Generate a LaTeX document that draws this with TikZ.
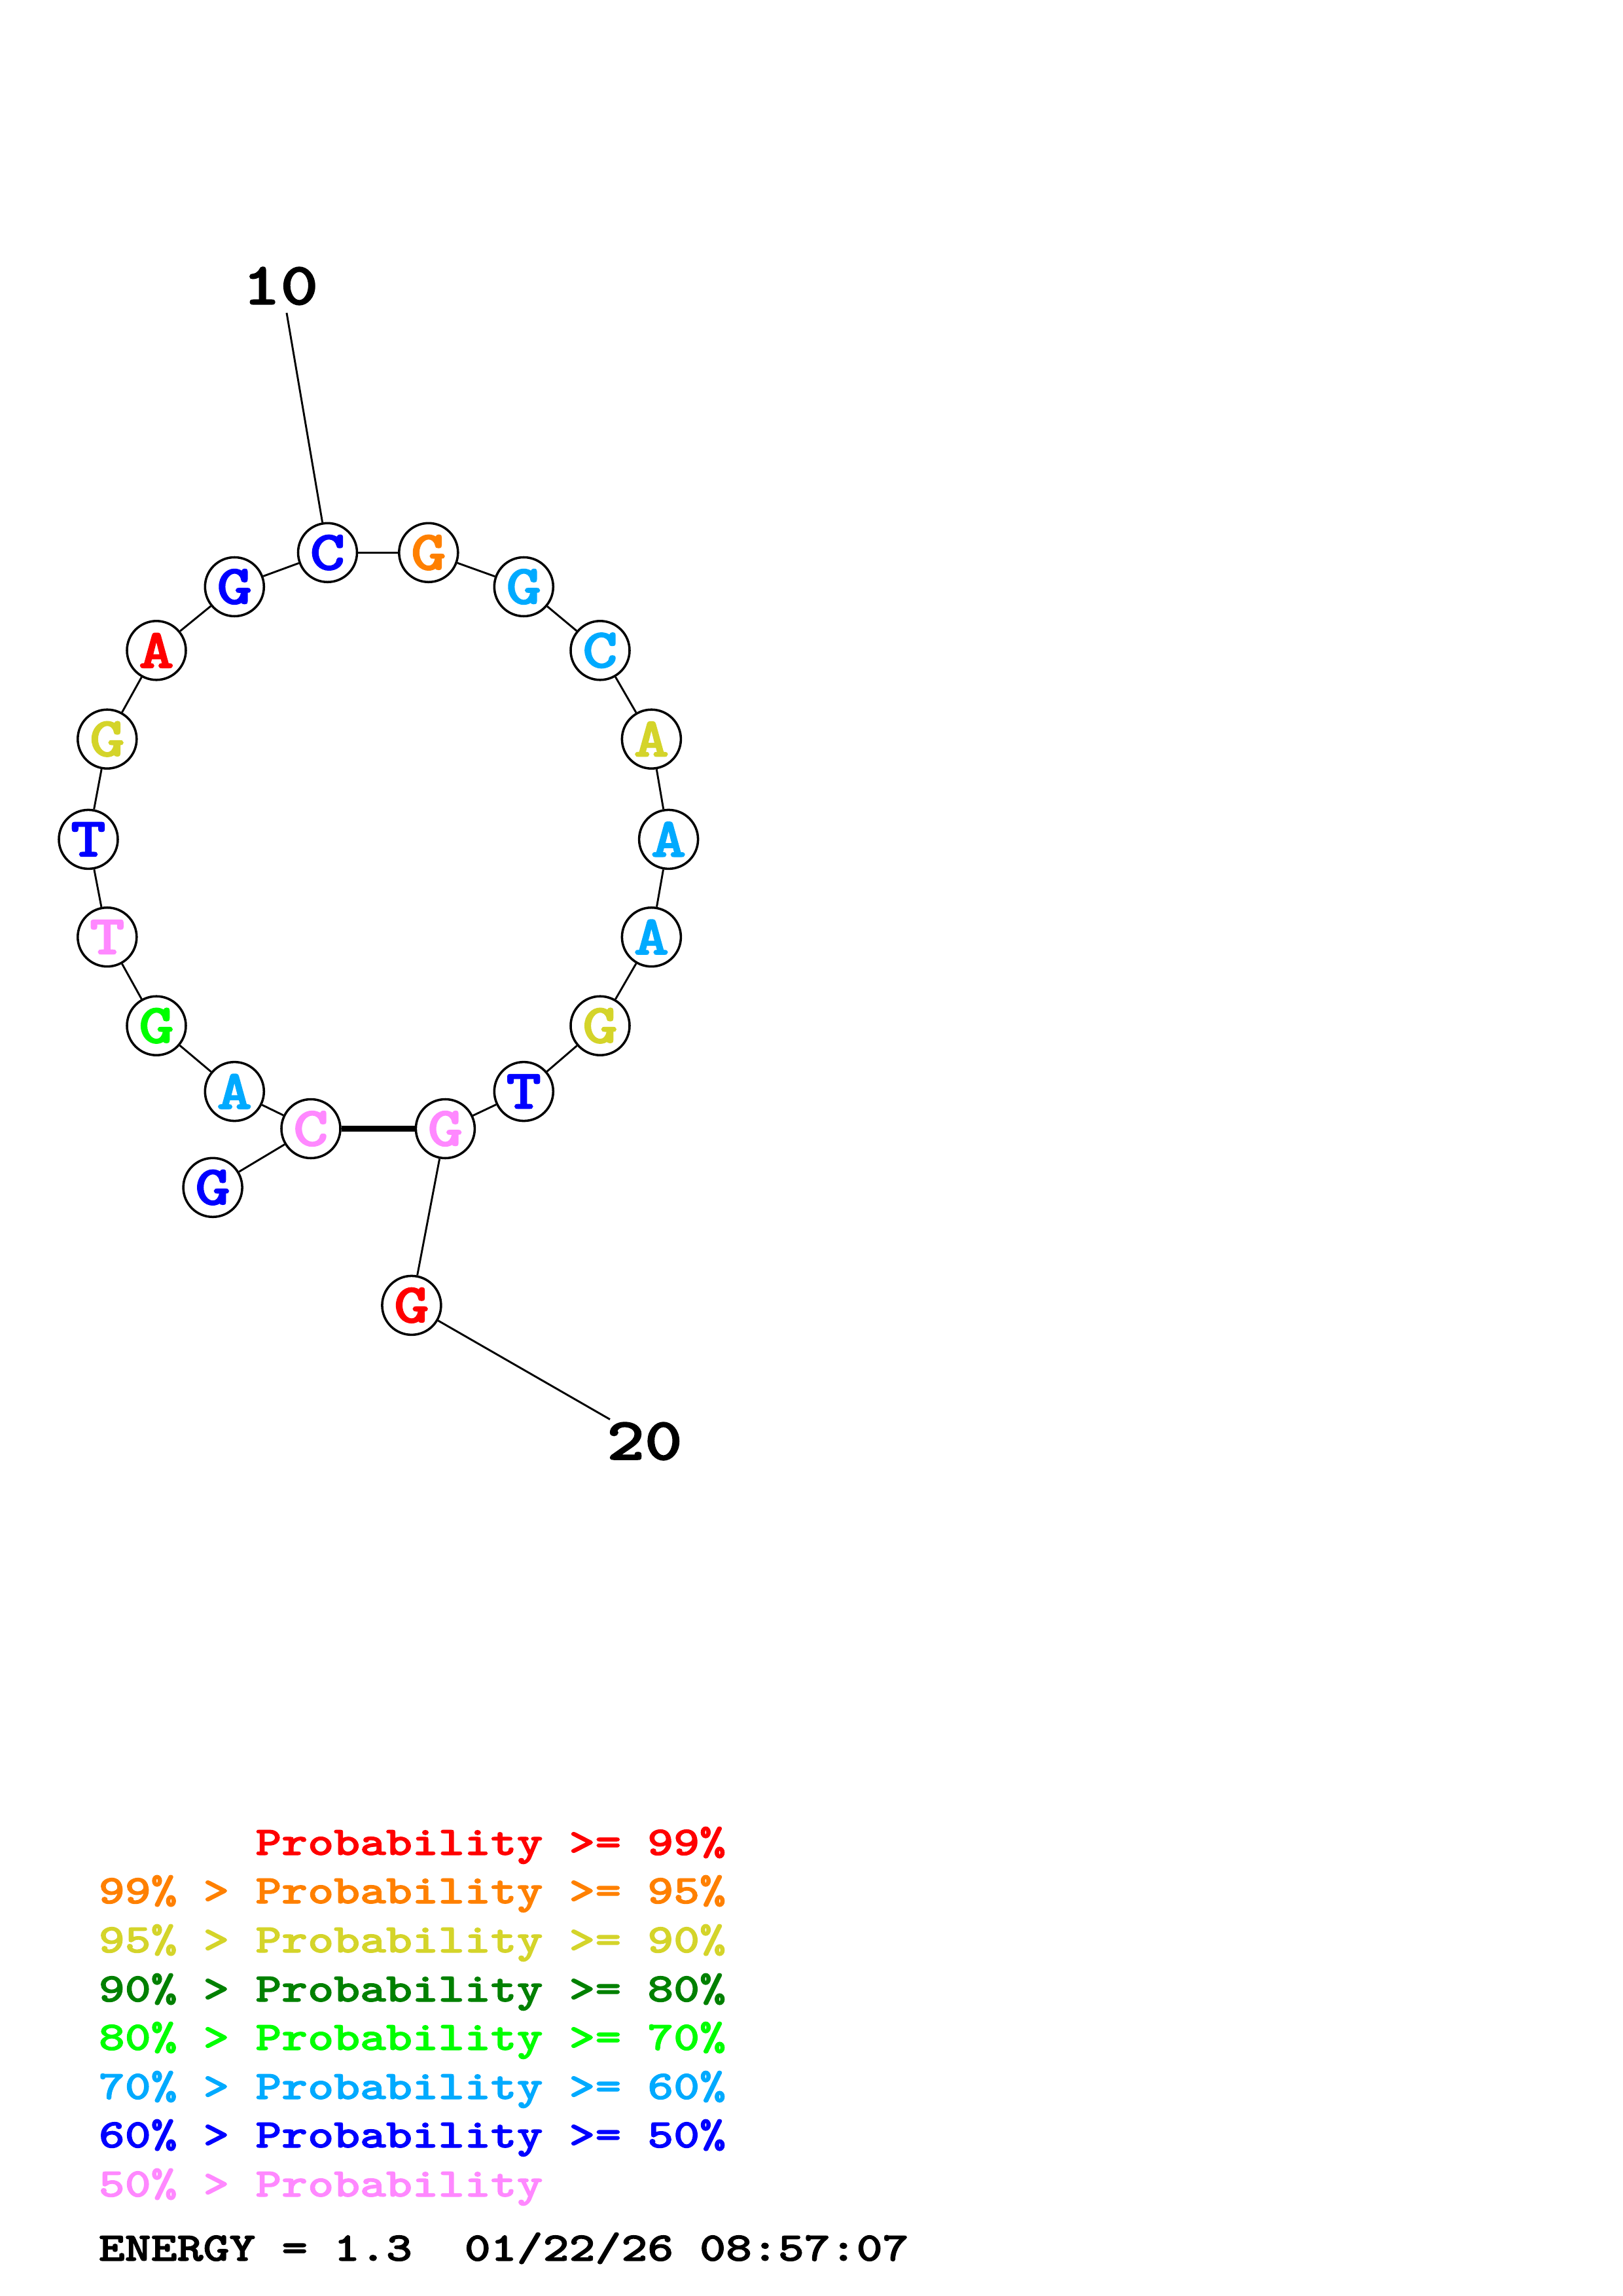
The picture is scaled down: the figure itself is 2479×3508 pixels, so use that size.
\documentclass[tikz,border=0pt]{standalone}
\usepackage{fontspec}
\usepackage{graphicx}
\newfontfamily\cmono{lmmonolt10-bold.otf}[FakeBold=1.6]
\definecolor{pr}{HTML}{FF0000}
\definecolor{po}{HTML}{FF8000}
\definecolor{py}{HTML}{D4D42A}
\definecolor{pdg}{HTML}{008000}
\definecolor{pg}{HTML}{00FF00}
\definecolor{plb}{HTML}{00AAFF}
\definecolor{pb}{HTML}{0000FF}
\definecolor{pp}{HTML}{FF88FF}
\newcommand\sx[1]{\scalebox{1.2}[1]{#1}}
\newcommand\sy[1]{\scalebox{1.225}[1]{#1}}
\tikzset{
  base/.style={circle, draw, line width=0.85pt, fill=white, minimum size=21.6pt, inner sep=0pt,
    font=\fontsize{20.5}{24}\selectfont\cmono},
  link/.style={line width=0.7pt},
  pairbond/.style={line width=2pt},
  leg/.style={anchor=base west, inner sep=0pt, font=\fontsize{14.9}{18}\selectfont\cmono},
  lbl/.style={inner sep=0pt, font=\fontsize{22}{26}\selectfont\cmono}
}
\begin{document}
\begin{tikzpicture}[x=0.24pt, y=-0.24pt]
\useasboundingbox (0,0) rectangle (2479,3508);
% bases
\node[base, text=pb]  (n1)  at (325.1,1814.3) {\sx{G}};
\node[base, text=pp]  (n2)  at (475,1724.5)   {\sx{C}};
\node[base, text=plb] (n3)  at (358.3,1667.6) {\sx{A}};
\node[base, text=pg]  (n4)  at (239,1567.2)   {\sx{G}};
\node[base, text=pp]  (n5)  at (163.8,1431.7) {\sx{T}};
\node[base, text=pb]  (n6)  at (135,1282.4)   {\sx{T}};
\node[base, text=py]  (n7)  at (163.8,1129.2) {\sx{G}};
\node[base, text=pr]  (n8)  at (239,993.8)    {\sx{A}};
\node[base, text=pb]  (n9)  at (358.3,896.5)  {\sx{G}};
\node[base, text=pb]  (n10) at (500.5,844.3)  {\sx{C}};
\node[base, text=po]  (n11) at (654.8,844.3)  {\sx{G}};
\node[base, text=plb] (n12) at (800.3,896.5)  {\sx{G}};
\node[base, text=plb] (n13) at (917,993.8)    {\sx{C}};
\node[base, text=py]  (n14) at (995.4,1129.2) {\sx{A}};
\node[base, text=plb] (n15) at (1021.6,1282.4){\sx{A}};
\node[base, text=plb] (n16) at (995.4,1431.7) {\sx{A}};
\node[base, text=py]  (n17) at (917,1567.2)   {\sx{G}};
\node[base, text=pb]  (n18) at (800.3,1667.6) {\sx{T}};
\node[base, text=pp]  (n19) at (680.4,1724.5) {\sx{G}};
\node[base, text=pr]  (n20) at (628.9,1994.4) {\sx{G}};
% backbone
\foreach \a/\b in {1/2,2/3,3/4,4/5,5/6,6/7,7/8,8/9,9/10,10/11,11/12,12/13,13/14,14/15,15/16,16/17,17/18,18/19,19/20}
  \draw[link] (n\a) -- (n\b);
% pair
\draw[pairbond] (n2) -- (n19);
% numbering labels
\node[lbl] (l10) at (428.5,437) {\sx{10}};
\coordinate (t10) at (438,478);
\draw[link] (t10) -- (n10);
\node[lbl] (l20) at (985,2202) {\sx{20}};
\coordinate (t20) at (932,2168.6);
\draw[link] (n20) -- (t20);
% legend
\node[leg, text=pr]  (g1) at (150,2834) {\sy{\phantom{99\%\ >\ }Probability >= 99\%}};
\node[leg, text=po]  (g2) at (150,2908) {\sy{99\% > Probability >= 95\%}};
\node[leg, text=py]  (g3) at (150,2983) {\sy{95\% > Probability >= 90\%}};
\node[leg, text=pdg] (g4) at (150,3058) {\sy{90\% > Probability >= 80\%}};
\node[leg, text=pg]  (g5) at (150,3132) {\sy{80\% > Probability >= 70\%}};
\node[leg, text=plb] (g6) at (150,3207) {\sy{70\% > Probability >= 60\%}};
\node[leg, text=pb]  (g7) at (150,3281) {\sy{60\% > Probability >= 50\%}};
\node[leg, text=pp]  (g8) at (150,3356) {\sy{50\% > Probability}};
\node[leg, text=black] (en) at (150,3454) {\sy{ENERGY = 1.3\ \ 01/22/26 08:57:07}};
\end{tikzpicture}
\end{document}
